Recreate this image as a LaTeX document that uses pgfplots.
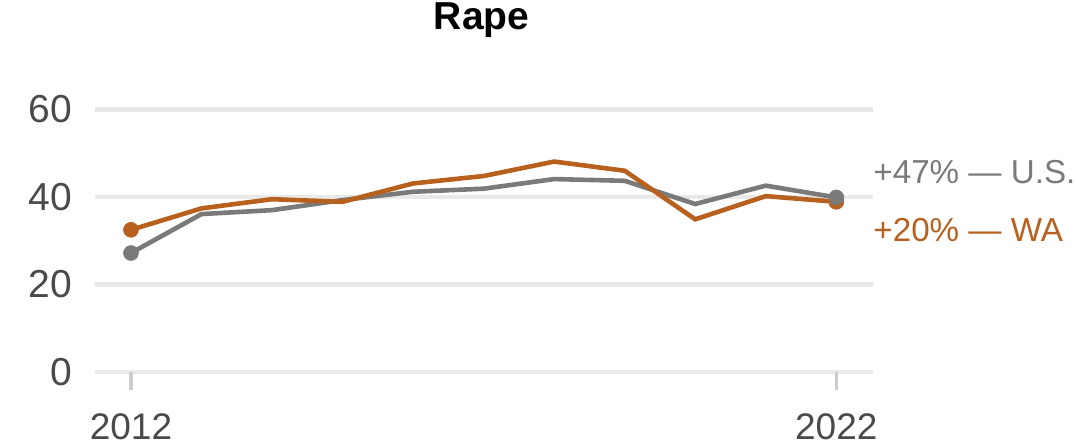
\documentclass[border=0pt]{standalone}
\usepackage{pgfplots}
\pgfplotsset{compat=1.18}
\usepackage{fontspec}
\setmainfont{Liberation Sans}
\definecolor{wa}{HTML}{B8611F}
\definecolor{us}{HTML}{7A7A7A}
\definecolor{gridc}{HTML}{E9E9E9}
\definecolor{tickc}{HTML}{CCCCCC}
\definecolor{labc}{HTML}{4A4A4A}
\begin{document}
\begin{tikzpicture}
\begin{axis}[
  at={(0,0)}, anchor=origin,
  scale only axis, width=389pt, height=131.25pt,
  xmin=2011.49, xmax=2022.52, ymin=0, ymax=60,
  axis line style={draw=none},
  ytick={0,20,40,60},
  xtick={2012,2022}, xticklabels={2012,2022},
  xtick pos=bottom, ytick pos=left,
  ymajorgrids, grid style={gridc, line width=2.4pt},
  major y tick style={draw=none},
  major x tick style={tickc, line width=1.7pt},
  xtick align=outside, major tick length=9pt,
  x tick label style={font=\fontsize{18.5}{20}\selectfont, text=labc, anchor=north, yshift=-8.5pt},
  y tick label style={font=\fontsize{19.5}{20}\selectfont, text=labc, anchor=east, xshift=-8pt},
  /pgf/number format/assume math mode=true,
  clip=false,
]
\addplot[us, line width=2.3pt] coordinates {
(2012,27.2) (2013,36.1) (2014,37.0) (2015,39.3) (2016,41.2) (2017,41.9)
(2018,44.1) (2019,43.7) (2020,38.4) (2021,42.6) (2022,39.9)};
\addplot[wa, line width=2.3pt] coordinates {
(2012,32.5) (2013,37.4) (2014,39.5) (2015,38.9) (2016,43.1) (2017,44.8)
(2018,48.1) (2019,46.0) (2020,34.9) (2021,40.2) (2022,38.9)};
\addplot[wa, only marks, mark=*, mark size=3.7pt] coordinates {(2012,32.5) (2022,38.9)};
\addplot[us, only marks, mark=*, mark size=3.7pt] coordinates {(2012,27.2) (2022,39.9)};
\node[anchor=west, inner sep=0pt, text=us, font=\fontsize{16.6}{18}\selectfont] at (rel axis cs:1,0.762) {+47\% — U.S.};
\node[anchor=west, inner sep=0pt, text=wa, font=\fontsize{16.6}{18}\selectfont] at (rel axis cs:1,0.541) {+20\% — WA};
\node[anchor=center, inner sep=0pt, font=\bfseries\fontsize{19.5}{21}\selectfont] at (rel axis cs:0.497,1.34) {Rape};
\end{axis}
\pgfresetboundingbox
\useasboundingbox (-47.5pt,-37.5pt) rectangle (490.5pt,186pt);
\end{tikzpicture}
\end{document}
